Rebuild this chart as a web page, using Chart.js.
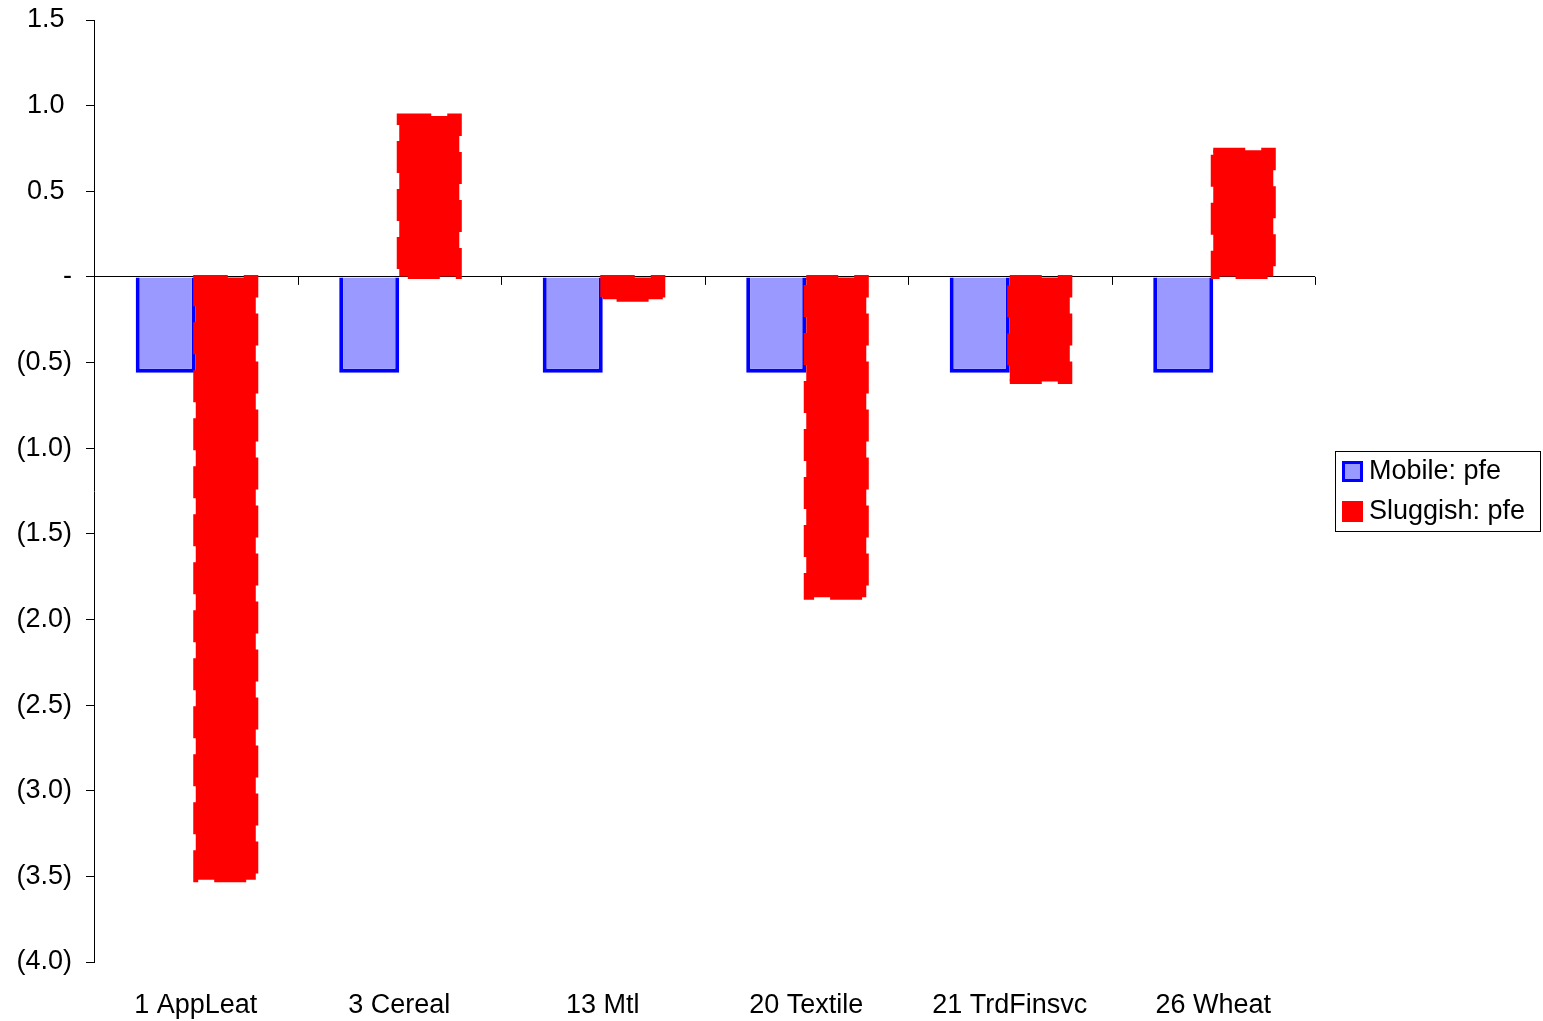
<!DOCTYPE html>
<html>
<head>
<meta charset="utf-8">
<script src="https://cdn.jsdelivr.net/npm/chart.js@4/dist/chart.umd.min.js"></script>
<style>
  html, body { margin: 0; padding: 0; background: #fff; }
  #box { width: 1543px; height: 1021px; }
</style>
</head>
<body>
<div id="box"><canvas id="grafica"></canvas></div>
<script>
var categorias = ["1 AppLeat", "3 Cereal", "13 Mtl", "20 Textile", "21 TrdFinsvc", "26 Wheat"];
var mobileValues = [-0.56, -0.56, -0.56, -0.56, -0.56, -0.56];
var sluggishValues = [-3.52, 0.94, -0.13, -1.87, -0.61, 0.74];
var yTicks = [1.5, 1.0, 0.5, 0, -0.5, -1.0, -1.5, -2.0, -2.5, -3.0, -3.5, -4.0];

var fuente = "'Liberation Sans', Arial, sans-serif";

function formato(v) {
  if (Math.abs(v) < 1e-9) return "-";
  if (v < 0) return "(" + Math.abs(v).toFixed(1) + ")";
  return v.toFixed(1) + " ";
}

// borde punteado de las barras rojas, ejes en cero y leyenda con marco
var extras = {
  id: "extras",
  afterDatasetsDraw: function (chart) {
    var ctx = chart.ctx;
    var meta = chart.getDatasetMeta(1);
    ctx.save();
    ctx.strokeStyle = "#ff0000";
    ctx.lineWidth = 5;
    ctx.setLineDash([32, 16]);
    meta.data.forEach(function (bar) {
      var p = bar.getProps(["x", "y", "base", "width"], true);
      var top = Math.min(p.y, p.base), h = Math.abs(p.base - p.y);
      ctx.strokeRect(p.x - p.width / 2, top, p.width, h);
    });
    ctx.restore();

    // marcas de categoria sobre la linea del cero
    var xs = chart.scales.x, ys = chart.scales.y;
    var y0 = ys.getPixelForValue(0);
    var half = (xs.getPixelForValue(1) - xs.getPixelForValue(0)) / 2;
    ctx.save();
    ctx.strokeStyle = "#000";
    ctx.lineWidth = 1;
    ctx.beginPath();
    for (var i = 0; i <= categorias.length; i++) {
      var x = Math.round(xs.getPixelForValue(i) - half) + 0.5;
      ctx.moveTo(x, y0);
      ctx.lineTo(x, y0 + 8);
    }
    ctx.stroke();
    ctx.restore();
  },
  afterDraw: function (chart) {
    var ctx = chart.ctx;
    var area = chart.chartArea;
    var ds = chart.data.datasets;
    ctx.save();
    ctx.font = "27px " + fuente;
    var maxW = 0;
    ds.forEach(function (d) { maxW = Math.max(maxW, ctx.measureText(d.label).width); });
    var left = area.right + 20;
    var w = 7 + 21 + 6 + maxW + 15;
    var h = 80;
    var top = (area.top + area.bottom) / 2 - h / 2;
    ctx.strokeStyle = "#000";
    ctx.lineWidth = 1;
    ctx.strokeRect(Math.round(left) + 0.5, Math.round(top) + 0.5, Math.round(w), h);
    ds.forEach(function (d, i) {
      var cy = top + 20 + i * 40;
      var bx = left + 7;
      ctx.fillStyle = d.backgroundColor;
      ctx.fillRect(bx, cy - 10, 21, 21);
      if (i === 0) {
        ctx.strokeStyle = d.borderColor;
        ctx.lineWidth = 3;
        ctx.strokeRect(bx + 1.5, cy - 8.5, 18, 18);
      }
      ctx.fillStyle = "#000";
      ctx.textBaseline = "middle";
      ctx.textAlign = "left";
      ctx.fillText(d.label, bx + 27, cy + 1);
    });
    ctx.restore();
  }
};

new Chart("grafica", {
  type: "bar",
  data: {
    labels: categorias,
    datasets: [{
      label: "Mobile: pfe",
      data: mobileValues,
      backgroundColor: "#9999ff",
      borderColor: "#0000ff",
      borderWidth: 4
    }, {
      label: "Sluggish: pfe",
      data: sluggishValues,
      backgroundColor: "#ff0000",
      borderWidth: 0
    }]
  },
  plugins: [extras],
  options: {
    responsive: true,
    maintainAspectRatio: false,
    animation: false,
    layout: { padding: { top: 20, right: 228, left: 0, bottom: 0 } },
    plugins: {
      legend: { display: false },
      tooltip: { enabled: false }
    },
    datasets: {
      bar: { categoryPercentage: 0.59, barPercentage: 1.0 }
    },
    scales: {
      x: {
        grid: { display: false },
        border: { display: false },
        ticks: {
          color: "#000",
          padding: 19,
          maxRotation: 0,
          font: { family: fuente, size: 27 }
        },
        afterFit: function (s) { s.height = 59; s.paddingLeft = 0; s.paddingRight = 0; }
      },
      y: {
        min: -4,
        max: 1.5,
        afterBuildTicks: function (s) {
          s.ticks = yTicks.map(function (v) { return { value: v }; });
        },
        grid: {
          drawOnChartArea: true,
          color: function (c) { return c.tick && Math.abs(c.tick.value) < 1e-9 ? "#000" : "rgba(0,0,0,0)"; },
          tickColor: "#000",
          tickLength: 8,
          lineWidth: 1
        },
        border: { display: true, color: "#000", width: 1 },
        ticks: {
          color: "#000",
          padding: 14,
          font: { family: fuente, size: 27 },
          callback: function (v) { return formato(v); }
        },
        afterFit: function (s) { s.width = 94; s.paddingTop = 0; s.paddingBottom = 0; }
      }
    }
  }
});
</script>
</body>
</html>
